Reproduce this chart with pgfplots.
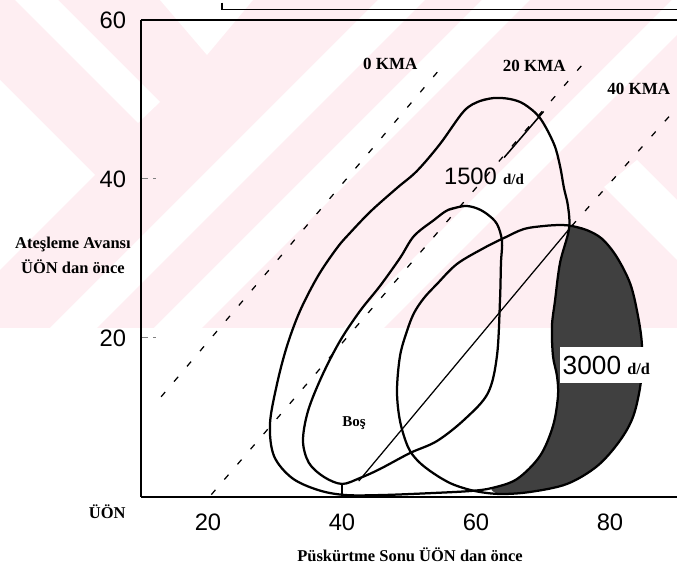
\documentclass[border=0pt]{standalone}
\usepackage{fontspec}
\setmainfont{Liberation Serif}
\newfontfamily\sans{Liberation Sans}
\usepackage{pgfplots}
\pgfplotsset{compat=1.18}
\definecolor{wmpink}{RGB}{254,238,242}
\begin{document}
\begin{tikzpicture}
\useasboundingbox (-56.4pt,-30.8pt) rectangle (214.4pt,198.8pt);
% faint background watermark of the scanned page
\begin{scope}[x=0.4pt,y=-0.4pt,shift={(-56.4pt,198.8pt)}]
  \fill[wmpink] (0,0) rectangle (677,328);
  \fill[white] (15,0) -- (58,0) -- (160,102) -- (138,123) -- cycle;
  \fill[white] (0,80) -- (95,175) -- (0,270) -- cycle;
  \fill[white] (378,0) -- (425,0) -- (97,328) -- (50,328) -- cycle;
  \fill[white] (482,0) -- (530,0) -- (202,328) -- (154,328) -- cycle;
  \fill[white] (672,0) -- (677,0) -- (677,35) -- (384,328) -- (344,328) -- cycle;
  \fill[white] (160,0) -- (253,0) -- (207,55) -- cycle;
  \fill[white] (604,187) -- (637,160) -- (677,200) -- (677,260) -- cycle;
\end{scope}
\begin{axis}[
  at={(0,0)}, anchor=south west,
  width=214.4pt, height=190.8pt, scale only axis,
  xmin=10, xmax=90, ymin=0, ymax=60,
  axis x line*=box, axis y line*=left,
  axis line style={line width=0.8pt},
  xtick={20,40,60,80}, ytick={20,40,60},
  xticklabel pos=lower, yticklabel pos=left,
  xtick style={draw=none},
  ytick style={densely dashed, line width=0.4pt},
  tick align=inside, major tick length=6pt,
  /pgf/number format/assume math mode=true,
  ticklabel style={font=\sans\fontsize{9.5}{11}\selectfont},
  yticklabel style={xshift=-2.4pt},
  xticklabel style={yshift=-3.4pt},
  clip=false,
  xlabel={Püskürtme Sonu ÜÖN dan önce},
  xlabel style={font=\bfseries\fontsize{6.6}{8}\selectfont, at={(axis description cs:0.502,-0.122)}, anchor=center},
  ylabel={Ateşleme Avansı\\ÜÖN dan önce},
  ylabel style={rotate=-90, align=center, font=\bfseries\fontsize{6.6}{10}\selectfont, at={(axis description cs:-0.127,0.507)}, anchor=center},
]
% cut-off frame line of the chart above
\addplot[black, line width=0.5pt] coordinates {(22.1,62.2) (22.1,61.3) (90,61.3)};
% KMA lines
\addplot[black, line width=0.5pt, dash pattern=on 2.5pt off 5.5pt] coordinates {(13,12.6) (55.4,54.6)};
\addplot[black, line width=0.5pt, dash pattern=on 2.5pt off 5.5pt] coordinates {(20.5,0.3) (76,54.5)};
\addplot[black, line width=0.6pt] coordinates {(64.2,42.7) (70.1,48.5)};
\addplot[black, line width=0.5pt, dash pattern=on 2.5pt off 5.5pt] coordinates {(74.3,34.1) (89.5,48.5)};
\addplot[black, line width=0.5pt] coordinates {(42.5,2.0) (74.3,34.1)};
% 3000 d/d region outside the 1500 d/d region (dark)
\addplot[fill=black!75, draw=none, smooth, tension=0.5] coordinates {
(74.33,34.09) (76.52,33.58) (78.81,32.48) (81.00,30.21) (83.04,26.79) (84.18,22.77)
(84.78,18.99) (84.63,14.59) (83.49,10.19) (81.44,7.04) (78.11,3.90) (73.58,1.64)
(68.06,0.63) (63.58,0.38) (62.39,1.13) (66.12,2.26) (69.55,5.16) (71.49,8.93)
(72.24,12.70) (72.09,15.22) (71.49,17.74) (71.34,21.51) (71.79,24.65) (72.54,29.43)
(73.88,33.71) (74.33,34.09)};
% 1500 d/d outer region
\addplot[black, line width=0.9pt, smooth, tension=0.55] coordinates {
(62.69,50.19) (60.60,49.81) (58.21,48.55) (54.63,44.40) (51.19,41.01) (48.21,38.87)
(44.33,35.97) (41.19,33.21) (39.25,31.32) (36.42,27.80) (33.73,23.40) (31.79,18.99)
(30.30,14.21) (29.25,9.18) (29.85,5.16) (32.54,2.39) (36.42,0.88) (40.45,0.25)
(46.12,0.25) (53.58,0.50) (59.10,0.75) (62.39,1.13) (66.12,2.26) (69.55,5.16)
(71.49,8.93) (72.24,12.70) (72.09,15.22) (71.49,17.74) (71.34,21.51) (71.79,24.65)
(72.54,29.43) (73.88,33.71) (73.73,36.60) (73.13,38.87) (72.54,41.64) (71.64,44.40)
(69.55,47.67) (67.16,49.43) (65.07,50.06) (62.69,50.19) (60.60,49.81)};
% inner (Bos) region
\addplot[black, line width=0.9pt, smooth, tension=0.55] coordinates {
(58.21,36.60) (55.82,36.10) (53.73,34.84) (50.75,32.83) (48.66,30.06) (45.67,26.54)
(42.69,23.40) (39.70,19.62) (37.01,15.22) (34.93,10.82) (34.18,7.04) (35.07,4.28)
(37.31,2.52) (40.00,1.64) (42.69,2.39) (45.67,3.52) (50.15,5.53) (54.18,7.04)
(58.36,9.81) (61.79,13.08) (63.13,17.74) (63.58,24.65) (63.73,29.43) (63.88,32.20)
(63.13,34.34) (61.64,35.60) (60.00,36.35) (58.21,36.60) (55.82,36.10)};
\addplot[black, line width=0.5pt] coordinates {(40,1.64) (40,0)};
% 3000 d/d region
\addplot[black, line width=0.9pt, smooth, tension=0.55] coordinates {
(74.33,34.09) (76.52,33.58) (78.81,32.48) (81.00,30.21) (83.04,26.79) (84.18,22.77)
(84.78,18.99) (84.63,14.59) (83.49,10.19) (81.44,7.04) (78.11,3.90) (73.58,1.64)
(68.06,0.63) (63.58,0.38) (59.85,0.75) (56.42,1.64) (53.58,3.02) (51.34,4.53)
(49.85,6.29) (48.66,9.56) (48.21,13.33) (48.66,17.74) (49.70,20.88) (50.75,23.14)
(52.24,25.03) (54.18,26.79) (57.16,29.31) (61.19,31.32) (64.18,32.58) (67.16,33.71)
(70.15,34.09) (72.54,34.21) (74.33,34.09) (76.52,33.58)};
% labels
\node[font=\bfseries\fontsize{6.8}{8}\selectfont] at (axis cs:47.2,54.5) {0 KMA};
\node[font=\bfseries\fontsize{6.8}{8}\selectfont] at (axis cs:68.7,54.2) {20 KMA};
\node[font=\bfseries\fontsize{6.8}{8}\selectfont] at (axis cs:84.3,51.3) {40 KMA};
\node[inner sep=1pt] at (axis cs:61.2,40.3) {{\sans\fontsize{9.5}{11}\selectfont 1500} {\bfseries\fontsize{6}{7}\selectfont d/d}};
\node[fill=white, anchor=west, inner xsep=1pt, inner ysep=3.5pt] at (axis cs:72.5,16.6) {{\sans\fontsize{10.5}{12}\selectfont 3000} {\bfseries\fontsize{6.5}{7}\selectfont d/d}};
\node[font=\bfseries\fontsize{6}{7}\selectfont] at (axis cs:41.8,9.3) {Boş};
\node[font=\bfseries\fontsize{6.6}{8}\selectfont] at (axis description cs:-0.063,-0.031) {ÜÖN};
\end{axis}
\end{tikzpicture}
\end{document}
